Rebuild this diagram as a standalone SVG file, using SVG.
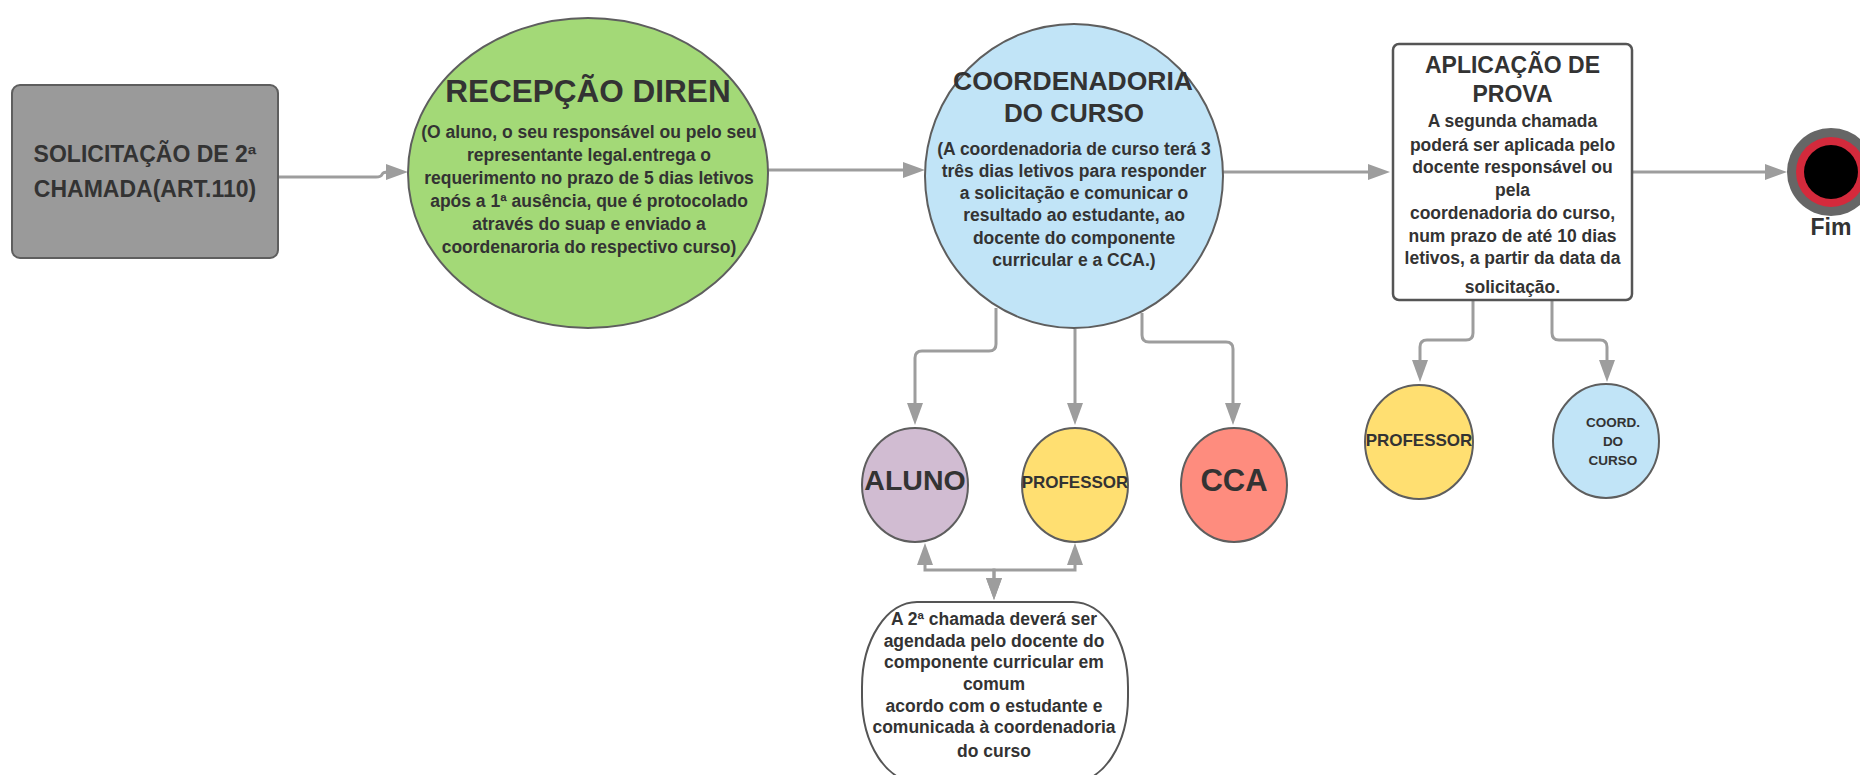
<svg xmlns="http://www.w3.org/2000/svg" width="1860" height="775" viewBox="0 0 1860 775">
<style>
text{font-family:"Liberation Sans",Arial,sans-serif;font-weight:bold;fill:#333;text-anchor:middle}
.body{font-size:17.5px}
.shape{stroke:#5e5e5e;stroke-width:2}
.conn{fill:none;stroke:#9d9d9d;stroke-width:3}
</style>
<defs>
<marker id="arr" viewBox="0 0 22 16" markerWidth="22" markerHeight="16" refX="12" refY="8" orient="auto-start-reverse" markerUnits="userSpaceOnUse">
<path d="M0,0 L22,8 L0,16 z" fill="#9d9d9d"/>
</marker>
</defs>
<rect width="1860" height="775" fill="#ffffff"/>
<g id="connectors">
<path class="conn" marker-end="url(#arr)" d="M278,177 H376 Q381,177 382,174.5 Q383,172 388,172 H398"/>
<path class="conn" marker-end="url(#arr)" d="M768,170 H915"/>
<path class="conn" marker-end="url(#arr)" d="M1223,172 H1380"/>
<path class="conn" marker-end="url(#arr)" d="M1632,172 H1777"/>
<path class="conn" marker-end="url(#arr)" d="M996,308 V344 Q996,351 989,351 H922 Q915,351 915,358 V415"/>
<path class="conn" marker-end="url(#arr)" d="M1075,329 V415"/>
<path class="conn" marker-end="url(#arr)" d="M1142,313 V335 Q1142,342 1149,342 H1226 Q1233,342 1233,349 V415"/>
<path class="conn" marker-end="url(#arr)" d="M1473,300 V333 Q1473,340 1466,340 H1427 Q1420,340 1420,347 V372"/>
<path class="conn" marker-end="url(#arr)" d="M1552,300 V333 Q1552,340 1559,340 H1600 Q1607,340 1607,347 V372"/>
<path class="conn" marker-start="url(#arr)" marker-end="url(#arr)" d="M925,553 V570 H994 V590"/>
<path class="conn" marker-start="url(#arr)" marker-end="url(#arr)" d="M1075,553 V570 H994 V590"/>
</g>
<g id="solicitacao">
<rect class="shape" x="12" y="85" width="266" height="173" rx="8" fill="#9a9a9a" stroke="#666"/>
<text x="145" y="162" font-size="23">SOLICITAÇÃO DE 2ª</text>
<text x="145" y="197" font-size="23">CHAMADA(ART.110)</text>
</g>
<g id="recepcao">
<ellipse class="shape" cx="588" cy="173" rx="180" ry="155" fill="#a3d977"/>
<text x="588" y="102" font-size="31.5">RECEPÇÃO DIREN</text>
<text class="body" x="589" y="138">(O aluno, o seu responsável ou pelo seu</text>
<text class="body" x="589" y="161">representante legal.entrega o</text>
<text class="body" x="589" y="184">requerimento no prazo de 5 dias letivos</text>
<text class="body" x="589" y="207">após a 1ª ausência, que é protocolado</text>
<text class="body" x="589" y="230">através do suap e enviado a</text>
<text class="body" x="589" y="253">coordenaroria do respectivo curso)</text>
</g>
<g id="coordenadoria">
<ellipse class="shape" cx="1074" cy="176" rx="149" ry="152" fill="#c1e4f7"/>
<text x="1073" y="90" font-size="26.5">COORDENADORIA</text>
<text x="1074" y="122" font-size="26">DO CURSO</text>
<text class="body" x="1074" y="155">(A coordenadoria de curso terá 3</text>
<text class="body" x="1074" y="177">três dias letivos para responder</text>
<text class="body" x="1074" y="199">a solicitação e comunicar o</text>
<text class="body" x="1074" y="221">resultado ao estudante, ao</text>
<text class="body" x="1074" y="244">docente do componente</text>
<text class="body" x="1074" y="266">curricular e a CCA.)</text>
</g>
<g id="aplicacao">
<rect x="1393" y="44" width="239" height="256" rx="6" fill="#ffffff" stroke="#555" stroke-width="2.5"/>
<text x="1512.5" y="73" font-size="23">APLICAÇÃO DE</text>
<text x="1512.5" y="102" font-size="23">PROVA</text>
<text class="body" x="1512.5" y="127">A segunda chamada</text>
<text class="body" x="1512.5" y="151">poderá ser aplicada pelo</text>
<text class="body" x="1512.5" y="173">docente responsável ou</text>
<text class="body" x="1512.5" y="196">pela</text>
<text class="body" x="1512.5" y="219">coordenadoria do curso,</text>
<text class="body" x="1512.5" y="242">num prazo de até 10 dias</text>
<text class="body" x="1512.5" y="264">letivos, a partir da data da</text>
<text class="body" x="1512.5" y="293">solicitação.</text>
</g>
<g id="fim">
<circle cx="1831" cy="172" r="44" fill="#666"/>
<circle cx="1831" cy="172" r="35" fill="#d42a3c"/>
<circle cx="1831" cy="172" r="27" fill="#000"/>
<text x="1831" y="235" font-size="23">Fim</text>
</g>
<g id="aluno">
<ellipse class="shape" cx="915" cy="485" rx="53" ry="57" fill="#d1bcd2"/>
<text x="915" y="490" font-size="28.5">ALUNO</text>
</g>
<g id="professor">
<ellipse class="shape" cx="1075" cy="485" rx="53" ry="57" fill="#ffdf71"/>
<text x="1075" y="488" font-size="17">PROFESSOR</text>
</g>
<g id="cca">
<ellipse class="shape" cx="1234" cy="485" rx="53" ry="57" fill="#fe8c7e"/>
<text x="1234" y="491" font-size="31">CCA</text>
</g>
<g id="professor2">
<ellipse class="shape" cx="1419" cy="442" rx="54" ry="57" fill="#ffdf71"/>
<text x="1419" y="446" font-size="17">PROFESSOR</text>
</g>
<g id="coord2">
<ellipse class="shape" cx="1606" cy="441" rx="53" ry="57" fill="#c1e4f7"/>
<text x="1613" y="427" font-size="13.5">COORD.</text>
<text x="1613" y="446" font-size="13.5">DO</text>
<text x="1613" y="465" font-size="13.5">CURSO</text>
</g>
<g id="agendamento">
<rect x="862" y="602" width="266" height="180" rx="55" ry="85" fill="#ffffff" stroke="#555" stroke-width="2"/>
<text class="body" x="994" y="625">A 2ª chamada deverá ser</text>
<text class="body" x="994" y="647">agendada pelo docente do</text>
<text class="body" x="994" y="668">componente curricular em</text>
<text class="body" x="994" y="690">comum</text>
<text class="body" x="994" y="712">acordo com o estudante e</text>
<text class="body" x="994" y="733">comunicada à coordenadoria</text>
<text class="body" x="994" y="757">do curso</text>
</g>
</svg>
